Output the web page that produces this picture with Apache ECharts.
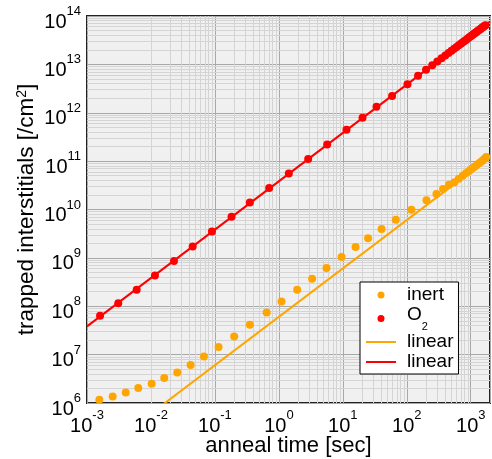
<!DOCTYPE html>
<html>
<head>
<meta charset="utf-8">
<script src="https://cdn.jsdelivr.net/npm/echarts@6/dist/echarts.min.js"></script>
<style>
  html, body { margin: 0; padding: 0; background: #fff; }
  #chart { width: 492px; height: 459px; }
</style>
</head>
<body>
<div id="chart"></div>
<script>
const FONT = '"Liberation Sans", Arial, Helvetica, sans-serif';

// Anneal times [s] and trapped interstitial densities [/cm^2], inert ambient
const inertTime = [0.00156, 0.00252, 0.00403, 0.00634, 0.01026, 0.01614, 0.02577, 0.0417, 0.0673,
  0.114, 0.200, 0.352, 0.643, 1.10, 1.93, 3.31, 5.56, 9.55, 15.8, 24.8, 40.3, 67.3, 118, 203,
  291, 369, 458, 557, 650, 750, 850, 950, 1050, 1150, 1250, 1350, 1450, 1550, 1650, 1750];
const inertDensity = [1.17e6, 1.37e6, 1.65e6, 2.04e6, 2.51e6, 3.29e6, 4.29e6, 6.1e6, 9.2e6,
  1.44e7, 2.38e7, 4.15e7, 7.45e7, 1.26e8, 2.19e8, 3.70e8, 6.15e8, 1.04e9, 1.67e9, 2.56e9, 3.94e9,
  6.12e9, 9.86e9, 1.56e10, 2.08e10, 2.64e10, 3.24e10, 3.68e10, 4.3e10, 4.97e10, 5.65e10, 6.3e10,
  7.0e10, 7.68e10, 8.37e10, 9.05e10, 9.75e10, 1.045e11, 1.135e11, 1.21e11];

// Anneal times [s] and trapped interstitial densities [/cm^2], O2 ambient
const o2Time = [0.0016, 0.00308, 0.00598, 0.01155, 0.0229, 0.0449, 0.0898, 0.182, 0.352, 0.705,
  1.43, 2.87, 5.69, 11.4, 20.3, 33.6, 58.9, 102.5, 150, 200, 250, 300, 350, 400, 450, 500, 550,
  600, 650, 700, 750, 800, 850, 900, 950, 1000, 1050, 1100, 1150, 1200, 1250, 1300, 1350, 1400,
  1450, 1500, 1550, 1600, 1650, 1700];
const o2Density = [6.4e7, 1.16e8, 2.19e8, 4.33e8, 8.59e8, 1.72e9, 3.51e9, 7.06e9, 1.40e10, 2.77e10,
  5.55e10, 1.10e11, 2.20e11, 4.43e11, 7.85e11, 1.33e12, 2.23e12, 3.90e12, 5.8e12, 7.7e12, 9.6e12,
  1.15e13, 1.34e13, 1.53e13, 1.72e13, 1.91e13, 2.1e13, 2.29e13, 2.48e13, 2.67e13, 2.86e13, 3.05e13,
  3.24e13, 3.43e13, 3.62e13, 3.81e13, 4.0e13, 4.19e13, 4.38e13, 4.57e13, 4.76e13, 4.95e13,
  5.14e13, 5.33e13, 5.52e13, 5.71e13, 5.9e13, 6.09e13, 6.28e13, 6.47e13];

// Linear fits (density proportional to time), evaluated at both ends of the time range
const fitTime = [0.001, 2000];
const inertFit = [6.04e4, 1.208e11];
const o2Fit = [3.83e7, 7.66e13];

// Axis ranges
const xRange = [0.001, 2000];
const yRange = [1e6, 1e14];

const ORANGE = '#ffa500';
const RED = '#ff0000';

const pairs = (xs, ys) => xs.map((x, i) => [x, ys[i]]);

// Minor grid lines at 2..9 within each decade
const minorLines = [];
for (let d = -3; d <= 3; d++) {
  for (let m = 2; m <= 9; m++) {
    const v = m * Math.pow(10, d);
    if (v < xRange[1]) minorLines.push({ xAxis: v });
  }
}
for (let d = 6; d <= 13; d++) {
  for (let m = 2; m <= 9; m++) minorLines.push({ yAxis: m * Math.pow(10, d) });
}

const powLabel = (v) => {
  const e = Math.log10(v);
  const r = Math.round(e);
  if (Math.abs(e - r) > 1e-6) return '';
  return '{b|10}{s|' + r + '}';
};
const powRich = {
  b: { fontFamily: FONT, fontSize: 20, lineHeight: 27, verticalAlign: 'bottom', color: '#000' },
  s: { fontFamily: FONT, fontSize: 13, lineHeight: 13, verticalAlign: 'top', color: '#000' }
};

const legendText = {
  'inert': 'inert',
  'O2': '{o|O}{s|2}',
  'linear (inert)': 'linear',
  'linear (O2)': 'linear'
};
// Short horizontal stroke used as the legend key of the fit lines
const LINE_ICON = 'path://M0,0L30,0L30,2L0,2Z';

const chart = echarts.init(document.getElementById('chart'), null, { renderer: 'canvas' });
chart.setOption({
  animation: false,
  backgroundColor: '#fff',
  grid: {
    left: 87, right: 2, top: 16, bottom: 56,
    show: true, backgroundColor: '#f0f0f0', borderColor: '#222', borderWidth: 2,
    containLabel: false, outerBoundsMode: 'none'
  },
  xAxis: {
    type: 'log', logBase: 10, min: xRange[0], max: xRange[1], splitNumber: 10,
    axisLine: { show: false }, axisTick: { show: false },
    splitLine: { show: true, lineStyle: { color: '#a8a8a8', width: 1 } },
    axisLabel: { margin: 6, formatter: powLabel, rich: powRich, hideOverlap: false },
    name: 'anneal time [sec]', nameLocation: 'middle', nameGap: 32, nameMoveOverlap: false,
    nameTextStyle: { fontFamily: FONT, fontSize: 22, lineHeight: 22, color: '#000' }
  },
  yAxis: {
    type: 'log', logBase: 10, min: yRange[0], max: yRange[1], splitNumber: 10,
    axisLine: { show: false }, axisTick: { show: false },
    splitLine: { show: true, lineStyle: { color: '#a8a8a8', width: 1 } },
    axisLabel: { margin: 6, padding: [5, 0, 0, 0], formatter: powLabel, rich: powRich, hideOverlap: false },
    name: 'trapped interstitials [/cm{sup|2}]', nameLocation: 'middle', nameGap: 49, nameMoveOverlap: false,
    nameTextStyle: {
      fontFamily: FONT, fontSize: 22.5, lineHeight: 23, color: '#000',
      rich: { sup: { fontFamily: FONT, fontSize: 14, lineHeight: 14, verticalAlign: 'top', color: '#000' } }
    }
  },
  legend: {
    orient: 'vertical', left: 360, top: 282,
    padding: [3, 5, 2, 6],
    itemWidth: 30, itemHeight: 7, itemGap: 0,
    backgroundColor: '#fff', borderColor: '#000', borderWidth: 1, borderRadius: 0,
    selectedMode: false,
    data: [
      { name: 'inert', icon: 'circle' },
      { name: 'O2', icon: 'circle' },
      { name: 'linear (inert)', icon: LINE_ICON },
      { name: 'linear (O2)', icon: LINE_ICON }
    ],
    formatter: (name) => legendText[name],
    textStyle: {
      fontFamily: FONT, fontSize: 19, lineHeight: 20, color: '#000', padding: [0, 0, 0, 6],
      rich: {
        o: { fontFamily: FONT, fontSize: 19, lineHeight: 20, verticalAlign: 'top', color: '#000' },
        s: { fontFamily: FONT, fontSize: 11, lineHeight: 27, verticalAlign: 'bottom', color: '#000' }
      }
    }
  },
  series: [
    {
      name: 'minor grid', type: 'line', data: [], z: 1, silent: true,
      markLine: {
        silent: true, symbol: ['none', 'none'], animation: false, z: 1,
        label: { show: false },
        emphasis: { disabled: true },
        lineStyle: { color: '#d4d4d4', width: 1, type: 'solid' },
        data: minorLines
      }
    },
    {
      name: 'linear (inert)', type: 'line', data: pairs(fitTime, inertFit), symbol: 'none',
      lineStyle: { color: ORANGE, width: 2 }, itemStyle: { color: ORANGE }, z: 3, clip: true,
      emphasis: { disabled: true }
    },
    {
      name: 'linear (O2)', type: 'line', data: pairs(fitTime, o2Fit), symbol: 'none',
      lineStyle: { color: RED, width: 2 }, itemStyle: { color: RED }, z: 3, clip: true,
      emphasis: { disabled: true }
    },
    {
      name: 'inert', type: 'scatter', data: pairs(inertTime, inertDensity), symbol: 'circle',
      symbolSize: 8, itemStyle: { color: ORANGE, opacity: 1 }, z: 4, emphasis: { disabled: true }
    },
    {
      name: 'O2', type: 'scatter', data: pairs(o2Time, o2Density), symbol: 'circle',
      symbolSize: 8, itemStyle: { color: RED, opacity: 1 }, z: 4, emphasis: { disabled: true }
    }
  ]
});
</script>
</body>
</html>
